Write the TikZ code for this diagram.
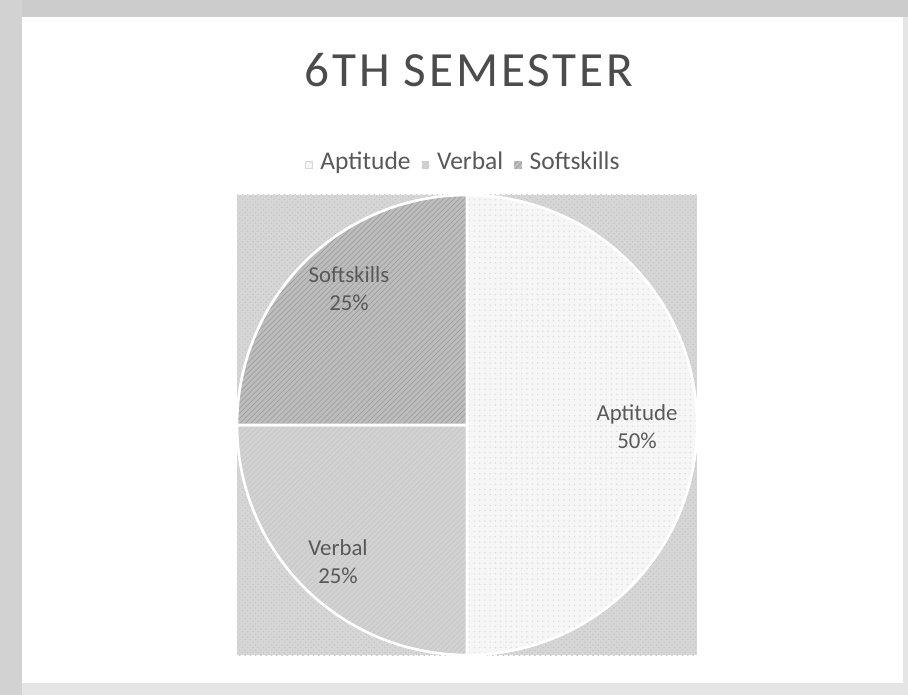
\documentclass[tikz,border=0pt]{standalone}
\usepackage{fontspec}
\setmainfont{Carlito}
\usetikzlibrary{patterns,positioning}
\definecolor{txtgray}{HTML}{595959}
\definecolor{plotbg}{HTML}{D6D6D6}
\definecolor{softc}{HTML}{BDBDBD}
\definecolor{verbc}{HTML}{D2D2D2}
\definecolor{aptc}{HTML}{F6F6F6}

\begin{document}
\begin{tikzpicture}[x=0.02cm,y=-0.02cm,
	lbl/.style={text=txtgray,font=\fontsize{13}{16}\selectfont,align=center},
	legtxt/.style={text=txtgray,font=\fontsize{14.5}{16}\selectfont,inner sep=1pt,text height=1.55ex,text depth=0.45ex},
	key/.style={minimum size=0.15cm,inner sep=0pt},
	softfill/.style={preaction={fill=softc},pattern=north east lines,pattern color=gray!75},
	verbfill/.style={preaction={fill=verbc},pattern=north east lines,pattern color=gray!45},
	aptfill/.style={preaction={fill=aptc},pattern=dots,pattern color=gray!25}]
	\useasboundingbox (0,0) rectangle (908,695);
	% marco gris del escaneo
	\fill[gray!20] (0,0) rectangle (908,695);
	\fill[gray!40] (0,0) rectangle (908,17);
	\fill[gray!35] (0,0) rectangle (22,695);
	\fill[white] (22,17) rectangle (903,683);
	% area del grafico
	\path[preaction={fill=plotbg},pattern=crosshatch dots,pattern color=gray!45] (237,195) rectangle (697,655);
	\coordinate (O) at (467,425);
	\path[aptfill,draw=white,line width=1.5] (O) -- ++(0,-230) arc[start angle=270,end angle=450,radius=230] -- cycle; % Aptitude
	\path[verbfill,draw=white,line width=1.5] (O) -- ++(0,230) arc[start angle=90,end angle=180,radius=230] -- cycle; % Verbal
	\path[softfill,draw=white,line width=1.5] (O) -- ++(-230,0) arc[start angle=180,end angle=270,radius=230] -- cycle; % Softskills
	% etiquetas de los sectores
	\node[lbl] (lsoft) at (349,289) {Softskills\\25\%};
	\node[lbl] (lapt) at (637,427) {Aptitude\\50\%};
	\node[lbl] (lverb) at (338,562) {Verbal\\25\%};
	% titulo
	\node[text=txtgray!85!black,font=\fontsize{28}{32}\selectfont\addfontfeatures{LetterSpace=6}] (title) at (469,70) {6TH SEMESTER};
	% leyenda
	\node[key,aptfill,draw=gray!30,line width=0.3] (kapt) at (309,165) {};
	\node[legtxt,right=3pt of kapt] (tapt) {Aptitude};
	\node[key,verbfill,right=5pt of tapt] (kverb) {};
	\node[legtxt,right=3pt of kverb] (tverb) {Verbal};
	\node[key,softfill,right=5pt of tverb] (ksoft) {};
	\node[legtxt,right=3pt of ksoft] (tsoft) {Softskills};
\end{tikzpicture}
\end{document}
